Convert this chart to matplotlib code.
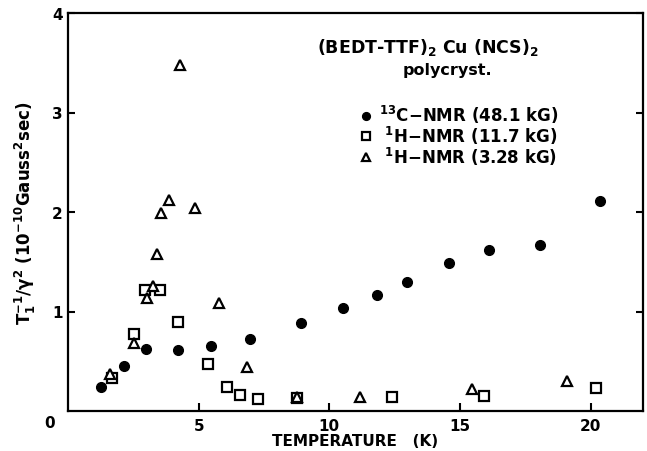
import numpy as np
import matplotlib
matplotlib.use('Agg')
import matplotlib.pyplot as plt

plt.rcParams['font.family'] = ['DejaVu Sans']
plt.rcParams['font.weight'] = 'bold'
plt.rcParams['mathtext.default'] = 'regular'

# 13C-NMR (48.1 kG), filled circles
c13_temp = [1.27, 2.16, 2.99, 4.19, 5.47, 6.97, 8.91, 10.52, 11.83, 12.98, 14.57, 16.09, 18.06, 20.36]
c13_rate = [0.24, 0.45, 0.62, 0.61, 0.65, 0.72, 0.88, 1.04, 1.17, 1.30, 1.49, 1.62, 1.67, 2.11]

# 1H-NMR (11.7 kG), open squares
h117_temp = [1.68, 2.53, 2.95, 3.52, 4.22, 5.34, 6.07, 6.59, 7.28, 8.77, 12.40, 15.90, 20.19]
h117_rate = [0.33, 0.77, 1.22, 1.22, 0.89, 0.47, 0.24, 0.16, 0.12, 0.13, 0.14, 0.15, 0.23]

# 1H-NMR (3.28 kG), open triangles
h328_temp = [1.62, 2.53, 3.02, 3.24, 3.40, 3.55, 3.88, 4.29, 4.84, 5.79, 6.84, 8.77, 11.18, 15.46, 19.08]
h328_rate = [0.37, 0.68, 1.14, 1.26, 1.58, 1.99, 2.12, 3.48, 2.04, 1.09, 0.44, 0.14, 0.14, 0.22, 0.30]

legend_labels = [r'$^{13}$C$-$NMR (48.1 kG)', r' $^{1}$H$-$NMR (11.7 kG)', r' $^{1}$H$-$NMR (3.28 kG)']

fig = plt.figure(figsize=(6.47, 4.52), dpi=100)
ax = fig.add_axes([68 / 647, 1 - 412 / 452, 575 / 647, 398 / 452])

h1, = ax.plot(c13_temp, c13_rate, 'o', color='black', ms=7, ls='none')
h2, = ax.plot(h117_temp, h117_rate, 's', mfc='white', mec='black', mew=1.6, ms=7, ls='none')
h3, = ax.plot(h328_temp, h328_rate, '^', mfc='white', mec='black', mew=1.6, ms=7, ls='none')

ax.set_xlim(0, 22)
ax.set_ylim(0, 4)
for s in ax.spines.values():
    s.set_linewidth(1.6)

ax.set_xticks([5, 10, 15, 20])
ax.set_yticks([1, 2, 3, 4])
ax.tick_params(axis='x', direction='in', length=6, width=1.5, pad=5, labelsize=11,
               top=False)
ax.tick_params(axis='y', direction='in', length=5, width=1.5, pad=4, labelsize=11,
               right=True)
ax.text(-0.5, -0.04, '0', transform=ax.transData, ha='right', va='top',
        fontsize=11, fontweight='bold')

ax.set_xlabel('TEMPERATURE   (K)', fontsize=11, fontweight='bold', labelpad=0)
ax.set_ylabel(r'T$_1^{-1}$/$\gamma^2$ (10$^{-10}$Gauss$^2$sec)', fontsize=12,
              fontweight='bold', labelpad=10)

fig.text(428 / 647, 1 - 47 / 452, r'(BEDT-TTF)$_2$ Cu (NCS)$_2$', ha='center', va='center',
         fontsize=12.5, fontweight='bold')
fig.text(447 / 647, 1 - 70 / 452, 'polycryst.', ha='center', va='center',
         fontsize=11.5, fontweight='bold')

ax.legend([h1, h2, h3], legend_labels, loc='upper left',
          bbox_to_anchor=(352 / 647, 1 - 96 / 452), bbox_transform=fig.transFigure,
          frameon=False, fontsize=12, handlelength=0.7, handletextpad=0.4,
          labelspacing=-0.08, borderpad=0, markerscale=0.8)

plt.savefig('out.png', dpi=100)
plt.close()
